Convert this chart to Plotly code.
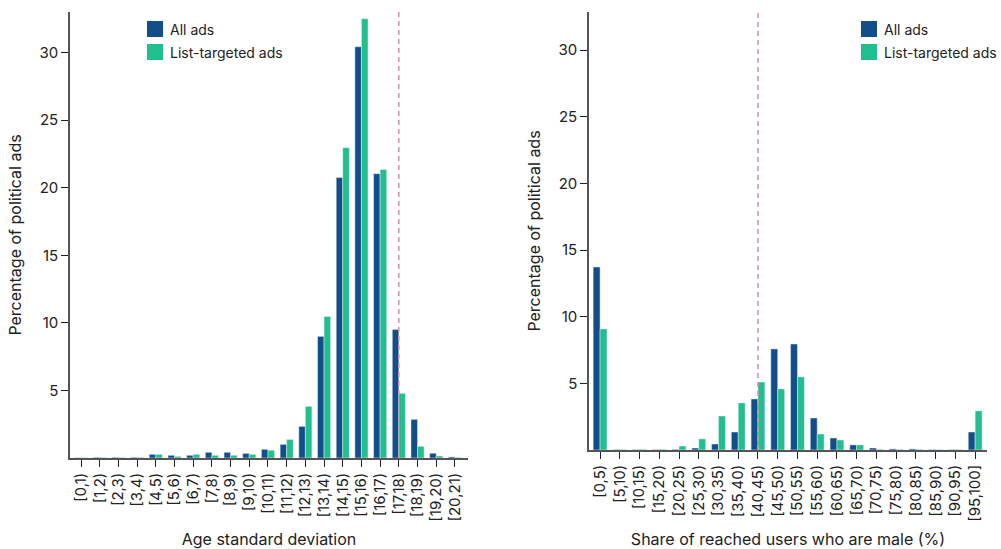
import plotly.graph_objects as go

age_cats = ["[0,1)", "[1,2)", "[2,3)", "[3,4)", "[4,5)", "[5,6)", "[6,7)", "[7,8)", "[8,9)", "[9,10)",
            "[10,11)", "[11,12)", "[12,13)", "[13,14)", "[14,15)", "[15,16)", "[16,17)", "[17,18)",
            "[18,19)", "[19,20)", "[20,21)"]
age_all = [0.02, 0.05, 0.05, 0.05, 0.27, 0.2, 0.2, 0.42, 0.42, 0.34, 0.64, 1.01, 2.34, 9.0,
           20.75, 30.43, 21.04, 9.51, 2.86, 0.35, 0.08]
age_list = [0.02, 0.04, 0.04, 0.04, 0.27, 0.12, 0.27, 0.2, 0.2, 0.27, 0.57, 1.37, 3.82, 10.47,
            22.96, 32.5, 21.34, 4.78, 0.86, 0.15, 0.05]
age_ref = "[17,18)"

male_cats = ["[0,5)", "[5,10)", "[10,15)", "[15,20)", "[20,25)", "[25,30)", "[30,35)", "[35,40)",
             "[40,45)", "[45,50)", "[50,55)", "[55,60)", "[60,65)", "[65,70)", "[70,75)", "[75,80)",
             "[80,85)", "[85,90)", "[90,95)", "[95,100]"]
male_all = [13.73, 0.03, 0.03, 0.03, 0.05, 0.15, 0.45, 1.35, 3.83, 7.58, 7.95, 2.4, 0.9, 0.38,
            0.15, 0.08, 0.08, 0.03, 0.03, 1.35]
male_list = [9.08, 0.03, 0.05, 0.05, 0.3, 0.83, 2.55, 3.53, 5.1, 4.58, 5.48, 1.2, 0.75, 0.38,
             0.05, 0.05, 0.05, 0.03, 0.03, 2.93]
male_ref = "[40,45)"

y_ticks = [5, 10, 15, 20, 25, 30]
series_names = ["All ads", "List-targeted ads"]

BLUE = "#124e8a"
GREEN = "#21bf8d"
PINK = "#d98fae"
FONT = "Inter"
TXT = "#222"
W, H = 1001, 549

fig = go.Figure()
fig.add_trace(go.Bar(x=age_cats, y=age_all, name=series_names[0], marker_color=BLUE,
                     xaxis="x", yaxis="y"))
fig.add_trace(go.Bar(x=age_cats, y=age_list, name=series_names[1], marker_color=GREEN,
                     xaxis="x", yaxis="y"))
fig.add_trace(go.Bar(x=male_cats, y=male_all, name=series_names[0], marker_color=BLUE,
                     xaxis="x2", yaxis="y2"))
fig.add_trace(go.Bar(x=male_cats, y=male_list, name=series_names[1], marker_color=GREEN,
                     xaxis="x2", yaxis="y2"))

axis_common = dict(showgrid=False, zeroline=False, showline=True, linecolor="#555", linewidth=1.5,
                   ticks="outside", ticklen=7, tickwidth=1.2, tickcolor="#222", automargin=False,
                   tickfont=dict(family=FONT, size=15, color=TXT))

fig.update_layout(
    width=W, height=H,
    margin=dict(l=0, r=0, t=0, b=0),
    paper_bgcolor="white", plot_bgcolor="white",
    barmode="group", bargap=0.3, bargroupgap=0,
    showlegend=False,
    font=dict(family=FONT, size=15, color=TXT),
    xaxis=dict(domain=[70 / W, 468 / W], anchor="y", type="category",
               range=[-0.59, 20.7], tickangle=-90,
               title=dict(text="Age standard deviation", font=dict(size=16), standoff=13),
               **axis_common),
    yaxis=dict(domain=[(H - 458) / H, (H - 12) / H], anchor="x", range=[0, 33],
               tickvals=y_ticks,
               title=dict(text="Percentage of political ads", font=dict(size=16), standoff=14),
               **axis_common),
    xaxis2=dict(domain=[589 / W, 987 / W], anchor="y2", type="category",
                range=[-0.56, 19.6], tickangle=-90,
                title=dict(text="Share of reached users who are male (%)", font=dict(size=16), standoff=13),
                **axis_common),
    yaxis2=dict(domain=[(H - 450) / H, (H - 12) / H], anchor="x2", range=[0, 32.85],
                tickvals=y_ticks,
                title=dict(text="Percentage of political ads", font=dict(size=16), standoff=14),
                **axis_common),
)

shapes = [
    dict(type="line", xref="x", yref="y domain", x0=age_cats.index(age_ref), x1=age_cats.index(age_ref),
         y0=0, y1=1, line=dict(color=PINK, width=1.5, dash="5px,4px"), layer="above"),
    dict(type="line", xref="x2", yref="y2 domain", x0=male_cats.index(male_ref), x1=male_cats.index(male_ref),
         y0=0, y1=1, line=dict(color=PINK, width=1.5, dash="5px,4px"), layer="above"),
]
annotations = []
# legends (one per panel)
for lx in (147, 861):
    for i, (name, col) in enumerate(zip(series_names, [BLUE, GREEN])):
        top = 21 + 23 * i
        shapes.append(dict(type="rect", xref="paper", yref="paper",
                           x0=lx / W, x1=(lx + 16) / W, y0=1 - (top + 16) / H, y1=1 - top / H,
                           fillcolor=col, line=dict(width=0)))
        annotations.append(dict(xref="paper", yref="paper", x=(lx + 21) / W, y=1 - (top + 8) / H,
                                xanchor="left", yanchor="middle", text=name, showarrow=False,
                                font=dict(family=FONT, size=14, color=TXT)))
fig.update_layout(shapes=shapes, annotations=annotations)

fig.write_html("out.html", config={"displayModeBar": False},
               post_script="document.body.style.margin='0';document.body.style.overflow='hidden';")
